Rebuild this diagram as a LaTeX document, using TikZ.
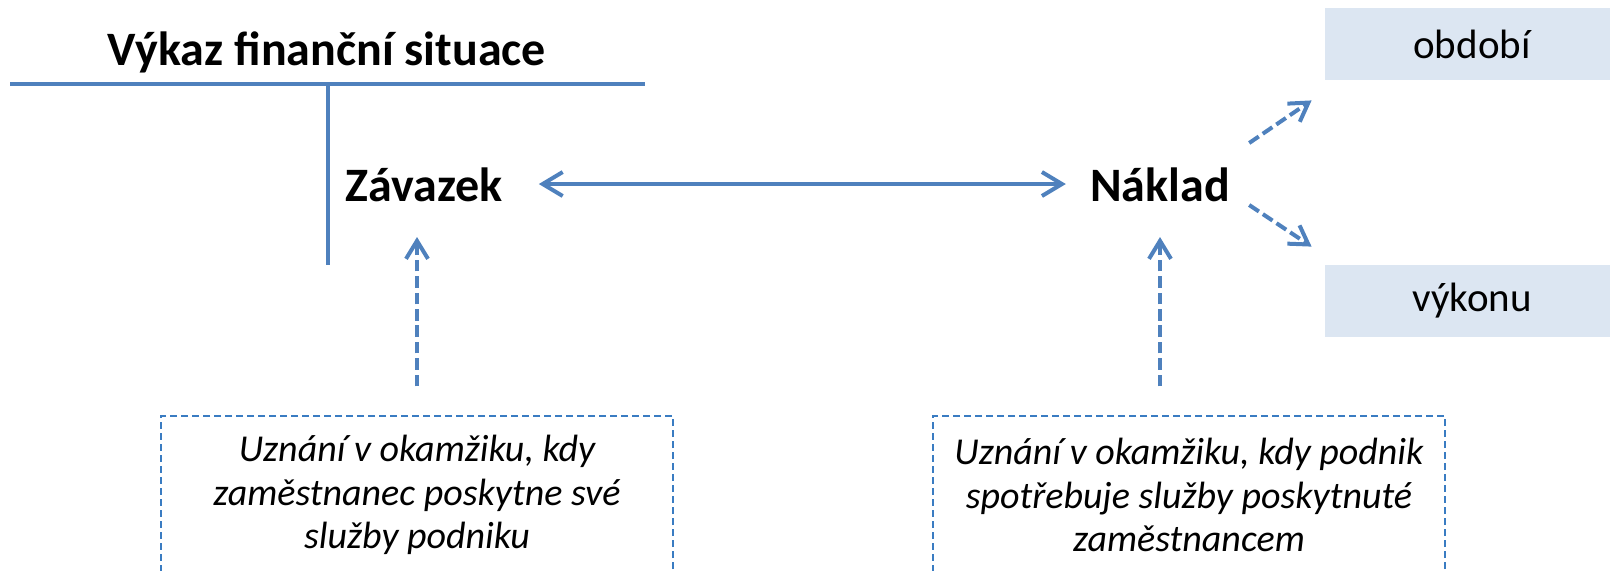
\documentclass[tikz,border=0pt]{standalone}
\usepackage{fontspec}
\setmainfont{Carlito}
\usepackage{tikz}
\usetikzlibrary{positioning, arrows.meta}
\usepackage{xcolor}
\definecolor{lineblue}{HTML}{4F81BD}
\definecolor{boxblue}{HTML}{3A7CC2}
\definecolor{paleblue}{HTML}{DCE6F2}

\begin{document}
\begin{tikzpicture}[
    x=0.5pt, y=-0.5pt,
    bigtext/.style={font=\fontsize{24}{28}\selectfont\bfseries, inner sep=0pt},
    periodbox/.style={fill=paleblue, minimum width=147pt, minimum height=36pt,
      font=\fontsize{20.5}{24}\selectfont},
    notebox/.style={draw=boxblue, line width=0.75pt, dash pattern=on 3.5pt off 2pt,
      minimum width=256pt, minimum height=79pt, align=center,
      font=\fontsize{19}{21.8}\selectfont\itshape},
    solidarrow/.style={draw=lineblue, line width=2pt,
      arrows={Straight Barb[length=10pt, width=12pt]-Straight Barb[length=10pt, width=12pt]}},
    dasharrow/.style={draw=lineblue, line width=2pt, dash pattern=on 5.8pt off 2.4pt,
      arrows={-Straight Barb[length=9pt, width=11pt]}},
  ]
  \useasboundingbox (0,0) rectangle (1610,570);
  \clip (0,0) rectangle (1610,570);

  \node[bigtext, anchor=base] (title) at (327,65) {Výkaz finanční situace};
  \node[bigtext, anchor=base] (zav) at (424,201) {Závazek};
  \node[bigtext, anchor=base] (nak) at (1160,201) {Náklad};
  \node[periodbox] (obd) at (1472,44) {období};
  \node[periodbox] (vyk) at (1472,301) {výkonu};
  \node[notebox] (lnote) at (417,495) {Uznání v okamžiku, kdy\\zaměstnanec poskytne své\\služby podniku};
  \node[notebox] (rnote) at (1189,495) {Uznání v okamžiku, kdy podnik\\spotřebuje služby poskytnuté\\zaměstnancem};

  % T-account
  \draw[lineblue, line width=2pt]
    (10,84) -- (645,84)
    (328,84) -- (328,265);

  \draw[solidarrow]
    ([xshift=18pt, yshift=8.5pt]zav.base east) -- ([xshift=-12pt, yshift=8.5pt]nak.base west);
  \draw[dasharrow, shorten <=14.5pt, shorten >=18pt]
    (lnote.north) -- (lnote.north |- zav.base);
  \draw[dasharrow, shorten <=14.5pt, shorten >=18pt]
    (nak.base |- rnote.north) -- (nak.base);
  \draw[dasharrow]
    ([shift={(19,-58)}]nak.base east) -- ([shift={(-13,20)}]obd.south west);
  \draw[dasharrow]
    ([shift={(19,4)}]nak.base east) -- ([shift={(-13,-18)}]vyk.north west);
\end{tikzpicture}
\end{document}
